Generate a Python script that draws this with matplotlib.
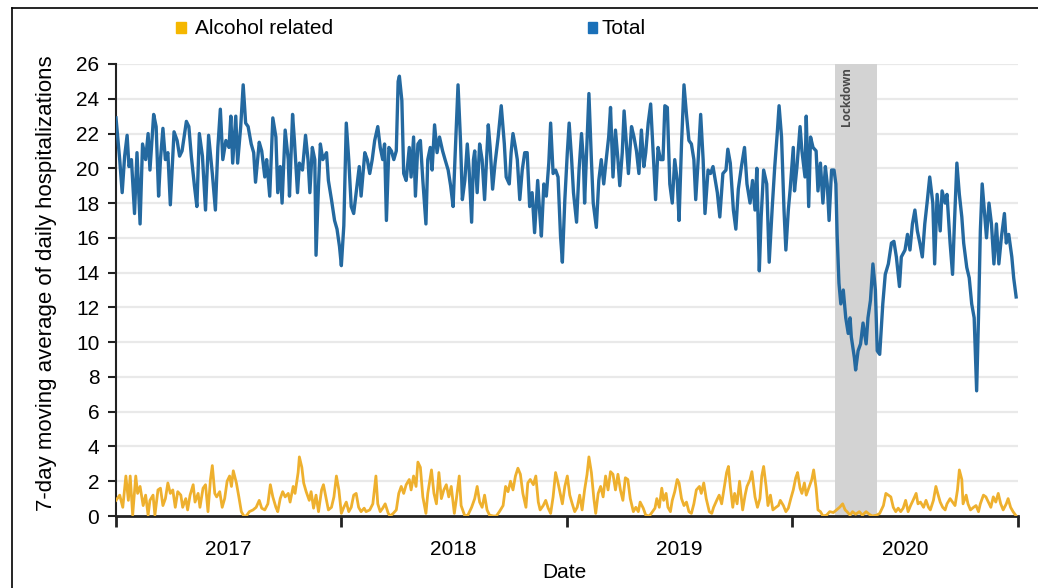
import matplotlib
matplotlib.use("Agg")
import matplotlib.pyplot as plt
from matplotlib.patches import Rectangle
from matplotlib.lines import Line2D
import pandas as pd
import numpy as np

plt.rcParams['font.family'] = ['Liberation Sans', 'DejaVu Sans']

START = pd.Timestamp('2017-01-01')
years = ['2017', '2018', '2019', '2020']
lockdown_start = '2020-03-11'
lockdown_end = '2020-05-17'
y_ticks = list(range(0, 27, 2))

# (days since 2017-01-01, 7-day moving average)
total_2017 = [(0,22.9),(6,20.5),(10,18.6),(14,20.7),(18,21.9),(21,20.1),(25,20.5),(30,17.4),(34,20.9),(39,16.8),(43,21.4),(48,20.5),(52,22.0),(55,19.9),(61,23.1),(65,22.4),(69,18.4),(72,20.5),(76,22.3),(80,20.5),(84,20.9),(88,17.9),(94,22.1),(99,21.6),(103,20.7),(107,21.0),(114,22.7),(118,22.4),(122,20.7),(127,19.0),(131,17.8),(135,22.0),(140,20.7),(145,17.6),(150,21.9),(156,19.7),(161,17.6),(165,21.2),(169,23.4),(173,20.5),(178,21.6),(183,21.2),(186,23.0),(189,20.3),(194,23.0),(197,20.3),(202,22.4),(206,24.8),(210,22.6),(214,22.4),(219,21.4),(223,20.9),(226,19.2),(232,21.5),(236,21.0),(241,19.5),(244,20.5),(249,18.4),(254,22.9),(259,21.8),(262,18.6),(266,20.1),(269,18.0),(274,22.2),(279,20.5),(281,18.4),(286,23.1),(289,21.6),(294,18.6),(297,20.3),(302,19.9),(307,21.9),(311,20.5),(314,18.6),(318,21.2),(322,20.5),(324,15.0),(328,19.0),(331,21.4),(335,20.5),(341,20.9),(344,19.3),(349,18.2),(354,17.0),(358,16.5),(362,15.5)]
total_2018 = [(365,14.4),(369,16.7),(373,22.6),(377,20.5),(381,17.8),(385,17.4),(389,18.6),(394,20.1),(397,18.4),(403,20.9),(407,20.5),(411,19.7),(415,20.5),(419,21.6),(424,22.4),(428,21.2),(432,20.5),(435,21.4),(438,17.0),(442,21.2),(446,21.0),(450,20.5),(454,21.0),(457,25.0),(459,25.3),(463,23.9),(466,19.7),(470,19.3),(475,21.2),(478,19.5),(482,21.8),(485,18.4),(489,21.4),(493,21.6),(497,19.3),(502,16.8),(505,20.5),(509,21.2),(512,19.9),(516,22.5),(520,20.9),(524,21.8),(529,21.0),(533,20.5),(538,19.9),(542,19.0),(546,17.8),(549,20.5),(554,24.8),(558,21.6),(561,18.2),(565,19.3),(569,21.4),(572,19.9),(576,16.9),(579,20.5),(581,21.0),(585,18.6),(589,21.4),(593,20.5),(597,18.2),(603,22.5),(606,21.2),(610,18.8),(614,20.3),(619,21.8),(624,23.6),(629,21.4),(632,19.5),(637,19.1),(640,20.9),(643,22.0),(647,21.2),(650,20.5),(654,18.2),(658,19.9),(662,20.9),(666,20.9),(670,17.8),(674,18.6),(678,16.3),(683,19.3),(686,17.6),(689,16.1),(693,19.1),(697,18.4),(701,20.3),(704,22.6),(708,19.7),(712,19.9),(716,19.5),(720,16.1),(723,14.6),(727,18.2)]
total_2019 = [(731,20.9),(734,22.6),(738,20.5),(741,18.6),(746,16.9),(750,19.9),(754,22.0),(757,20.5),(759,18.0),(763,21.6),(766,24.3),(770,20.5),(773,18.0),(778,16.6),(782,19.3),(786,20.5),(790,19.1),(794,20.5),(798,21.8),(801,23.5),(805,19.5),(809,22.2),(813,20.5),(816,19.0),(820,20.9),(823,23.3),(827,21.2),(830,19.7),(835,22.4),(839,21.8),(843,21.0),(847,19.7),(851,22.2),(855,20.1),(858,20.9),(862,22.6),(866,23.7),(870,21.0),(874,18.2),(878,21.2),(882,20.5),(886,20.5),(889,23.6),(893,23.5),(897,19.1),(901,18.0),(905,20.5),(909,19.3),(912,17.0),(916,21.4),(920,24.8),(924,23.1),(928,21.6),(932,21.4),(936,20.5),(939,18.2),(943,20.5),(947,23.1),(951,20.5),(954,17.4),(959,19.9),(963,19.7),(967,20.1),(974,18.6),(978,17.2),(983,19.7),(988,19.9),(991,21.1),(995,20.3),(1000,17.6),(1004,16.5),(1008,18.8),(1013,20.1),(1018,21.2),(1022,19.1),(1027,18.0),(1031,19.3),(1035,17.6),(1038,20.0),(1042,14.1),(1045,17.2),(1049,19.9),(1054,19.1),(1058,14.6),(1063,17.8),(1067,20.1),(1071,22.0),(1074,23.6),(1078,21.8),(1082,17.6),(1085,15.3),(1089,17.6),(1092,18.8)]
total_2020 = [(1097,21.2),(1099,18.7),(1103,20.1),(1108,22.4),(1111,21.0),(1116,19.5),(1118,23.0),(1122,17.8),(1125,21.8),(1129,21.2),(1134,21.0),(1137,18.7),(1141,20.3),(1145,18.0),(1149,20.1),(1152,19.1),(1155,17.0),(1159,19.9),(1163,19.9),(1166,19.1),(1168,16.2),(1171,13.4),(1174,12.2),(1178,13.0),(1182,11.4),(1186,10.5),(1189,11.4),(1191,10.3),(1196,9.1),(1198,8.4),(1202,9.5),(1206,9.9),(1210,11.1),(1215,9.9),(1218,11.4),(1222,12.4),(1226,14.5),(1230,13.0),(1233,9.5),(1237,9.3),(1242,12.2),(1246,13.9),(1251,14.5),(1256,15.7),(1260,15.8),(1264,14.9),(1269,13.2),(1272,14.9),(1278,15.3),(1282,16.2),(1286,15.3),(1290,16.8),(1294,17.6),(1298,16.4),(1302,15.7),(1306,14.9),(1310,16.8),(1314,18.1),(1318,19.5),(1323,18.0),(1326,14.5),(1330,18.5),(1335,16.4),(1338,18.7),(1343,18.0),(1346,18.5),(1351,15.7),(1355,13.9),(1358,16.8),(1362,20.3),(1366,18.5),(1370,17.2),(1373,15.7),(1378,14.3),(1382,13.7),(1386,12.2),(1390,11.4),(1394,7.2),(1397,11.4),(1400,16.4),(1403,19.1),(1406,17.8),(1410,16.0),(1414,18.0),(1418,16.8),(1422,14.5),(1426,16.8),(1430,14.5),(1434,16.0),(1439,17.4),(1442,15.7),(1446,16.2),(1451,14.9),(1454,13.7),(1458,12.6)]

alcohol_2017 = [(0,0.9),(6,1.2),(11,0.5),(16,2.3),(20,0.9),(23,2.3),(27,0.05),(32,2.3),(35,1.3),(39,1.7),(44,0.6),(48,1.2),(52,0.05),(55,0.9),(60,1.2),(63,0.05),(68,1.5),(72,1.6),(76,0.6),(80,1.0),(84,1.9),(88,1.3),(92,1.5),(96,0.5),(100,1.4),(105,1.2),(108,0.5),(113,1.0),(116,0.35),(120,1.2),(125,1.8),(128,0.8),(133,1.3),(136,0.5),(141,1.6),(145,1.8),(149,0.25),(153,2.1),(156,2.9),(160,1.3),(163,1.1),(168,1.4),(172,0.5),(176,1.0),(180,2.0),(184,2.3),(187,1.7),(190,2.6),(195,1.9),(199,1.1),(203,0.25),(207,0.0),(211,0.0),(216,0.25),(222,0.35),(227,0.5),(232,0.9),(236,0.45),(241,0.35),(246,0.7),(250,1.8),(254,1.1),(259,0.5),(262,0.25),(266,1.0),(270,1.4),(274,1.1),(279,1.3),(282,0.8),(287,1.7),(290,1.3),(295,2.5),(297,3.4),(301,2.8),(304,1.9),(308,1.4),(313,0.9),(316,1.4),(320,0.45),(324,1.2),(328,0.25),(333,1.5),(336,1.8),(341,0.9),(344,0.35),(349,0.5),(353,1.1),(357,2.3),(361,1.5)]
alcohol_2018 = [(365,0.15),(369,0.5),(373,0.8),(377,0.25),(381,0.5),(385,1.2),(389,1.3),(393,0.5),(397,0.25),(402,0.45),(405,0.25),(411,0.35),(416,0.7),(421,2.3),(424,0.7),(428,0.25),(432,0.45),(436,0.7),(441,0.15),(444,0.0),(449,0.15),(454,0.35),(458,1.3),(462,1.7),(466,1.3),(470,1.8),(475,2.1),(478,1.5),(482,2.3),(486,1.7),(489,3.1),(493,2.8),(497,1.1),(502,0.15),(505,1.3),(511,2.65),(515,1.3),(519,0.7),(523,2.5),(527,1.0),(531,1.5),(535,1.8),(539,1.1),(543,1.7),(548,0.15),(551,0.9),(556,2.3),(559,0.6),(565,0.0),(570,0.05),(576,0.5),(581,1.0),(585,1.7),(589,0.8),(593,0.5),(597,1.2),(601,0.35),(605,0.05),(611,0.0),(616,0.0),(621,0.25),(627,0.6),(631,1.7),(635,1.4),(639,2.0),(643,1.5),(647,2.3),(651,2.75),(655,2.4),(659,1.3),(664,0.5),(667,1.9),(671,2.1),(676,1.8),(680,2.3),(684,0.8),(687,0.35),(692,0.6),(696,0.9),(700,0.45),(704,0.15),(708,1.1),(712,2.5),(716,1.9),(723,0.7),(727,1.7)]
alcohol_2019 = [(731,2.3),(735,1.2),(739,0.7),(743,0.25),(747,0.5),(751,1.2),(755,0.35),(759,1.5),(763,2.4),(766,3.4),(770,2.5),(774,1.0),(777,0.15),(781,1.3),(785,1.7),(789,1.1),(793,2.3),(797,1.5),(801,2.55),(805,2.4),(809,1.5),(813,2.4),(817,1.5),(821,0.9),(825,2.2),(829,2.1),(833,1.0),(838,0.25),(842,0.5),(846,0.25),(849,0.8),(854,0.45),(858,0.05),(864,0.0),(869,0.25),(873,0.45),(876,1.0),(880,0.5),(884,1.6),(887,0.9),(891,1.3),(894,0.5),(898,0.25),(901,0.9),(905,1.4),(909,2.1),(912,1.9),(916,1.0),(920,0.6),(924,0.8),(928,0.25),(932,0.15),(936,0.7),(940,1.5),(945,1.7),(948,1.3),(952,1.9),(956,1.0),(961,0.25),(965,0.15),(968,0.5),(973,0.9),(977,1.2),(981,0.7),(985,1.6),(989,2.5),(992,2.85),(995,1.7),(999,0.5),(1002,1.3),(1006,0.7),(1010,2.0),(1015,0.35),(1019,1.2),(1022,1.7),(1027,2.1),(1030,2.55),(1035,1.1),(1039,0.5),(1043,1.0),(1046,2.3),(1049,2.85),(1053,1.7),(1056,0.6),(1060,1.2),(1064,0.35),(1069,0.5),(1073,0.6),(1076,0.9),(1081,0.6),(1085,0.25),(1089,0.45),(1093,1.0)]
alcohol_2020 = [(1097,1.5),(1101,2.2),(1104,2.5),(1108,1.6),(1111,1.3),(1115,1.9),(1118,1.2),(1123,1.7),(1127,2.1),(1130,2.65),(1134,1.6),(1137,0.35),(1141,0.25),(1145,0.0),(1151,0.05),(1156,0.25),(1162,0.2),(1167,0.35),(1172,0.5),(1177,0.7),(1181,0.35),(1184,0.25),(1189,0.05),(1193,0.25),(1198,0.1),(1204,0.25),(1209,0.05),(1215,0.25),(1220,0.1),(1225,0.0),(1232,0.05),(1237,0.15),(1243,0.6),(1247,1.3),(1251,1.2),(1255,1.1),(1259,0.5),(1263,0.25),(1267,0.45),(1271,0.25),(1275,0.45),(1279,0.9),(1283,0.25),(1287,0.6),(1291,0.9),(1296,1.3),(1299,0.7),(1303,0.8),(1308,0.5),(1312,0.9),(1316,0.5),(1319,0.35),(1324,0.9),(1328,1.7),(1331,1.3),(1335,0.8),(1339,0.5),(1343,0.35),(1346,0.7),(1351,1.0),(1355,0.8),(1359,0.6),(1363,1.5),(1366,2.65),(1370,2.1),(1372,0.7),(1377,1.2),(1380,0.7),(1384,0.35),(1389,0.5),(1393,0.6),(1397,0.25),(1400,0.7),(1405,1.2),(1409,1.1),(1413,0.8),(1417,0.5),(1421,1.1),(1425,0.8),(1429,1.3),(1433,0.7),(1437,0.35),(1442,0.7),(1445,1.0),(1449,0.5),(1453,0.25),(1458,0.0)]


def to_series(*parts):
    pts = [p for part in parts for p in part]
    d = START + pd.to_timedelta([p[0] for p in pts], unit='D')
    v = np.array([p[1] for p in pts])
    return d, v


t_dates, t_vals = to_series(total_2017, total_2018, total_2019, total_2020)
a_dates, a_vals = to_series(alcohol_2017, alcohol_2018, alcohol_2019, alcohol_2020)

W, H = 1038, 588
fig = plt.figure(figsize=(W / 100, H / 100), dpi=100)
ax = fig.add_axes([116 / W, 1 - 516 / H, (1018 - 116) / W, (516 - 64) / H])

C_TOTAL = '#2469a0'
C_ALC = '#eeb02e'
FS = 15

# grid
for yv in y_ticks[1:]:
    ax.axhline(yv, color='#e9e9e9', lw=1.6, zorder=0)

# lockdown shading
ls, le = pd.Timestamp(lockdown_start), pd.Timestamp(lockdown_end)
ax.axvspan(ls, le, color='#d3d3d3', zorder=1, lw=0)
ax.text(ls + (le - ls) * 0.27, 25.8, 'Lockdown', rotation=90, ha='center', va='top',
        fontsize=8.5, fontweight='bold', color='#4a4a4a', zorder=2,
        family=['Open Sans', 'DejaVu Sans'])

ax.plot(t_dates, t_vals, color=C_TOTAL, lw=2.4, zorder=3, solid_joinstyle='round')
ax.plot(a_dates, a_vals, color=C_ALC, lw=2.0, zorder=4, solid_joinstyle='round')

ax.set_xlim(START, pd.Timestamp('2021-01-01'))
ax.set_ylim(0, 26)
ax.set_yticks(y_ticks)
ax.set_yticklabels([str(v) for v in y_ticks], fontsize=FS)

year_starts = [pd.Timestamp(f'{y}-01-01') for y in years] + [pd.Timestamp('2021-01-01')]
year_mids = [pd.Timestamp(f'{y}-07-02') for y in years]
ax.set_xticks(year_starts)
ax.set_xticklabels([''] * len(year_starts))
ax.set_xticks(year_mids, minor=True)
ax.set_xticklabels(years, minor=True, fontsize=FS)
ax.tick_params(axis='x', which='major', length=8, width=2, color='#222222', direction='out')
ax.tick_params(axis='x', which='minor', length=0, pad=17)
ax.tick_params(axis='y', length=6, width=1.5, color='#222222', pad=6)

for s in ['top', 'right']:
    ax.spines[s].set_visible(False)
ax.spines['left'].set_linewidth(1.5)
ax.spines['left'].set_color('#222222')
ax.spines['bottom'].set_linewidth(2)
ax.spines['bottom'].set_color('#222222')
ax.set_facecolor('none')

fig.text(47 / W, 1 - 283 / H, '7-day moving average of daily hospitalizations', rotation=90,
         ha='center', va='center', fontsize=16)
fig.text(564 / W, 1 - 573 / H, 'Date', ha='center', va='center', fontsize=FS)

# legend
fig.patches.append(Rectangle((176 / W, 1 - 33 / H), 10 / W, 11 / H, transform=fig.transFigure,
                             color='#f5b700', figure=fig))
fig.text(195 / W, 1 - 28 / H, 'Alcohol related', ha='left', va='center', fontsize=FS)
fig.patches.append(Rectangle((588 / W, 1 - 33 / H), 9 / W, 11 / H, transform=fig.transFigure,
                             color='#1a70b8', figure=fig))
fig.text(601 / W, 1 - 28 / H, 'Total', ha='left', va='center', fontsize=FS)

# frame lines of the panel
fig.add_artist(Line2D([12 / W, 12 / W], [0, 1 - 8 / H], transform=fig.transFigure, color='black', lw=1.2))
fig.add_artist(Line2D([12 / W, 1], [1 - 8 / H, 1 - 8 / H], transform=fig.transFigure, color='black', lw=1.2))

fig.savefig('out.png', dpi=100)
